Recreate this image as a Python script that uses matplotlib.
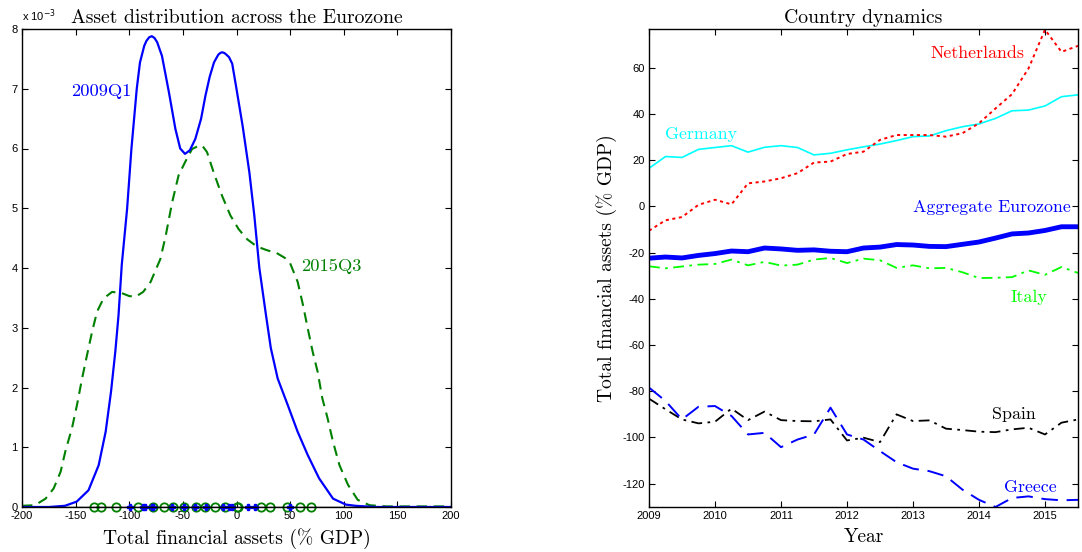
import numpy as np
import matplotlib
matplotlib.use('Agg')
import matplotlib.pyplot as plt

# left panel: density curves (x in % GDP, density in 1e-3)
x09 = [-200, -175, -160, -149, -138, -128.5, -122, -117, -113, -110, -107, -102, -98,
       -93, -90, -86, -84, -81.5, -79, -76.5, -74, -69.5, -63, -57, -52.5, -48, -43.5,
       -38.4, -33, -29, -25, -21, -17, -15, -13.5, -11.5, -10, -7, -4, -0.5, 5.7, 12,
       16.6, 21.3, 27.5, 32, 38.4, 47.7, 57, 66.4, 77, 90, 102, 111, 130, 200]
d09 = [0, 0, 0.02, 0.09, 0.28, 0.7, 1.26, 1.93, 2.6, 3.21, 4.05, 4.99, 5.99,
       7.0, 7.44, 7.72, 7.8, 7.86, 7.88, 7.85, 7.78, 7.55, 6.94, 6.33, 6.0, 5.91, 5.97,
       6.16, 6.5, 6.88, 7.2, 7.44, 7.57, 7.6, 7.61, 7.6, 7.58, 7.53, 7.42, 7.05, 6.38, 5.6,
       4.88, 4.0, 3.21, 2.66, 2.15, 1.71, 1.26, 0.87, 0.48, 0.14, 0.04, 0.02, 0, 0]

x15 = [-200, -188, -178, -170.5, -164, -159.6, -153.4, -148.7, -144, -139.4, -134.7,
       -130, -124, -116, -107, -100, -94, -87, -80, -76, -71, -66, -60, -54, -48,
       -41.5, -36, -32, -27.5, -21.3, -13.5, -5.7, 2, 10, 19, 28, 37.5, 45, 50, 57,
       62, 66.4, 71, 75.7, 80, 85, 90, 96, 104, 113, 124, 140, 200]
d15 = [0.02, 0.03, 0.14, 0.31, 0.59, 0.93, 1.32, 1.71, 2.15, 2.54, 2.93,
       3.27, 3.49, 3.6, 3.58, 3.53, 3.52, 3.6, 3.77, 3.94, 4.15, 4.54, 5.1, 5.55, 5.77,
       5.99, 6.04, 6.05, 5.94, 5.6, 5.21, 4.88, 4.65, 4.48, 4.36, 4.3, 4.25, 4.17, 4.08, 3.77,
       3.38, 2.99, 2.6, 2.26, 1.82, 1.48, 1.09, 0.7, 0.37, 0.12, 0.03, 0.01, 0.01]

# country observations shown as rug
rug09 = [-99, -87, -85, -79, -78, -60, -49, -39, -28, -13, -7, -4, 11, 17, 50]
rug15 = [-133, -126, -112, -92, -78, -68, -59, -49, -38, -29, -20, -11, 0, 1,
         23, 31, 47, 59, 69]

# right panel: quarterly series 2009Q1..2015Q3
quarters = np.arange(2009, 2015.51, 0.25)
germany = [16.5, 21.6, 21.2, 24.7, 25.5, 26.3, 23.5, 25.6, 26.3, 25.5, 22.3, 23.0, 24.5,
           25.8, 27.0, 28.5, 30.2, 30.5, 32.8, 34.5, 35.7, 38.1, 41.4, 41.7, 43.5, 47.5, 48.3]
netherlands = [-10.5, -6.0, -4.6, 0.7, 2.9, 0.9, 10.0, 10.8, 12.2, 14.4, 19.0, 19.4, 22.7,
               23.7, 28.8, 30.9, 30.9, 30.9, 30.2, 31.7, 36.0, 42.4, 48.6, 59.7, 76.5, 66.9, 69.5]
aggregate = [-22.4, -21.9, -22.3, -21.2, -20.4, -19.3, -19.6, -18.0, -18.4, -19.0, -18.8,
             -19.4, -19.6, -18.0, -17.6, -16.5, -16.7, -17.3, -17.4, -16.4, -15.4, -13.7,
             -11.9, -11.5, -10.4, -8.8, -8.8]
italy = [-25.9, -26.8, -26.0, -25.2, -24.9, -23.0, -25.5, -24.0, -25.6, -25.2, -23.0, -22.3,
         -24.5, -22.6, -23.3, -26.6, -25.5, -26.8, -26.6, -28.5, -31.0, -30.9, -30.6, -27.7,
         -29.6, -26.2, -28.8]
spain = [-83.2, -87.8, -92.2, -93.9, -93.2, -87.5, -92.5, -88.8, -92.5, -92.9, -93.0, -92.2,
         -101.3, -100.1, -102.0, -90.0, -92.9, -92.6, -96.2, -96.8, -97.5, -97.7, -96.5,
         -95.8, -98.7, -93.6, -92.2]
greece = [-78.4, -84.2, -92.2, -86.7, -86.4, -90.7, -98.7, -98.0, -104.2, -100.9, -98.7,
          -87.1, -98.7, -100.9, -105.9, -110.7, -113.5, -114.6, -116.8, -122.6, -127.0,
          -130.1, -126.2, -125.5, -126.7, -127.2, -127.0]

serif = 'cmr10'
dkgreen = (0, 0.5, 0)

plt.rcParams['font.family'] = ['Liberation Sans', 'DejaVu Sans']
plt.rcParams['font.size'] = 8
plt.rcParams['axes.unicode_minus'] = False

fig = plt.figure(figsize=(10.82, 5.52), dpi=100)
ax1 = fig.add_axes([22 / 1082, 45 / 552, 429 / 1082, 478 / 552])
ax2 = fig.add_axes([649 / 1082, 45 / 552, 429 / 1082, 478 / 552])

# ---- left panel
ax1.plot(x15, d15, color=dkgreen, lw=1.5, dashes=(5, 3.2))
ax1.plot(x09, d09, color='blue', lw=1.6)
ax1.plot(rug15, np.zeros(len(rug15)), 'o', mfc='none', mec=dkgreen, ms=6, mew=1.3, clip_on=False)
ax1.plot(rug09, np.zeros(len(rug09)), 'P', color='blue', ms=5, clip_on=False)
ax1.axhline(0, color='black', lw=1)
ax1.set_xlim(-200, 200)
ax1.set_ylim(0, 8)
ax1.set_xticks(np.arange(-200, 201, 50))
ax1.set_yticks(np.arange(0, 9, 1))
ax1.text(-126, 6.96, '2009Q1', color='blue', fontfamily=serif, fontsize=13.3,
         ha='center', va='center')
ax1.text(88, 4.02, '2015Q3', color=dkgreen, fontfamily=serif, fontsize=13.3,
         ha='center', va='center')
ax1.set_title('Asset distribution across the Eurozone', fontfamily=serif, fontsize=14.2, pad=4)
ax1.set_xlabel('Total financial assets (% GDP)', fontfamily=serif, fontsize=14, labelpad=5)
fig.text(22 / 1082, 1 - 16 / 552, r'x 10$^{-3}$', fontsize=8, ha='left', va='center')

# ---- right panel
ax2.plot(quarters, germany, color='cyan', lw=1.2)
ax2.plot(quarters, netherlands, color='red', lw=1.4, dashes=(1.6, 1.8))
ax2.plot(quarters, aggregate, color='blue', lw=3.5)
ax2.plot(quarters, italy, color=(0, 1, 0), lw=1.3, dashes=(6, 3, 1.5, 3))
ax2.plot(quarters, spain, color='black', lw=1.3, dashes=(6, 3, 1.5, 3))
ax2.plot(quarters, greece, color='blue', lw=1.4, dashes=(8.5, 4.5))
ax2.set_xlim(2009, 2015.5)
ax2.set_ylim(-130.1, 76.8)
ax2.set_xticks(np.arange(2009, 2016, 1))
ax2.set_yticks(np.arange(-120, 61, 20))
labels = [('Netherlands', 2013.97, 66.4, 'red'), ('Germany', 2009.79, 31.4, 'cyan'),
          ('Aggregate Eurozone', 2014.2, -0.6, 'blue'), ('Italy', 2014.76, -39.5, (0, 1, 0)),
          ('Spain', 2014.53, -90, 'black'), ('Greece', 2014.77, -121.5, 'blue')]
for name, lx, ly, c in labels:
    ax2.text(lx, ly, name, color=c, fontfamily=serif, fontsize=12.9, ha='center', va='center')
ax2.set_title('Country dynamics', fontfamily=serif, fontsize=14.2, pad=4)
ax2.set_xlabel('Year', fontfamily=serif, fontsize=14, labelpad=5)
ax2.set_ylabel('Total financial assets (% GDP)', fontfamily=serif, fontsize=14, labelpad=4)

for ax in (ax1, ax2):
    ax.tick_params(direction='in', top=True, right=True, length=4, width=0.8, pad=3)
    for s in ax.spines.values():
        s.set_linewidth(1)

fig.savefig('out.png', dpi=100)
